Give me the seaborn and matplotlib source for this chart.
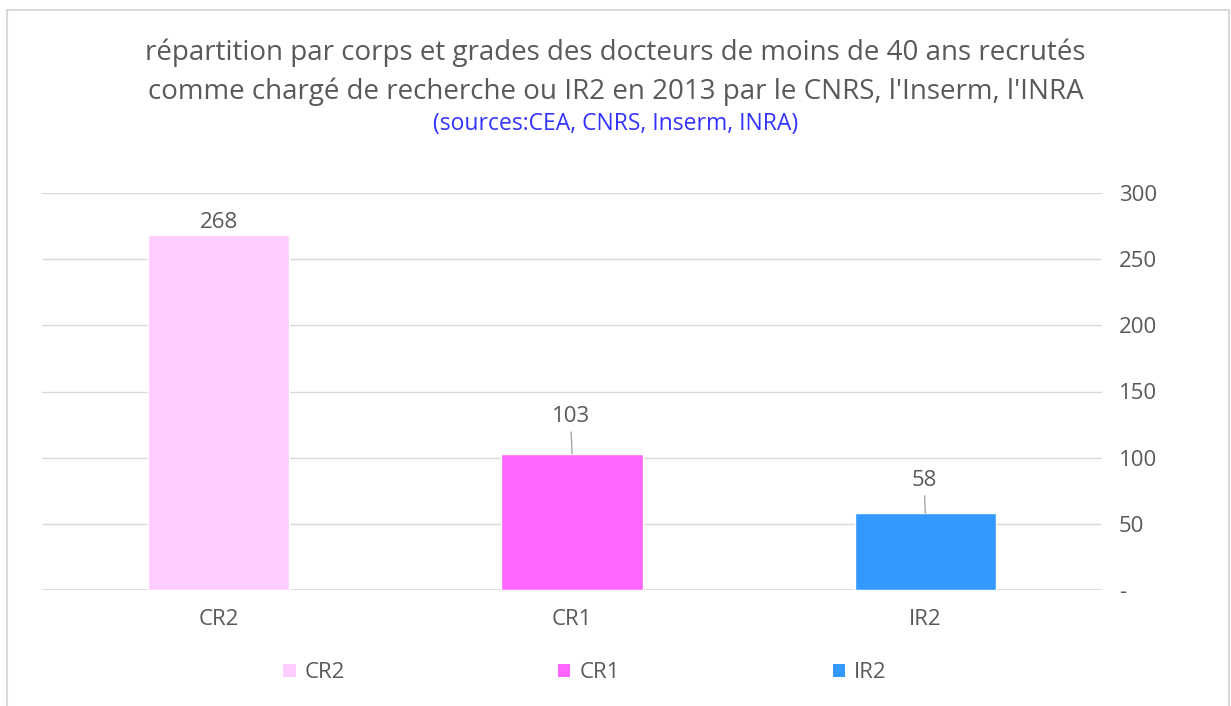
import numpy as np
import seaborn as sns
import matplotlib.pyplot as plt
from matplotlib.patches import Rectangle, Patch

sns.set_style("white")
plt.rcParams['font.family'] = ['Open Sans', 'DejaVu Sans']

# Data
categories = ["CR2", "CR1", "IR2"]
values = [268, 103, 58]
colors = ["#FFCCFF", "#FF66FF", "#3399FF"]
label_offsets = [2, 19, 16]   # points above bar top for the value labels

grey = "#595959"
fs = 16

fig = plt.figure(figsize=(12.31, 7.06), dpi=100)
ax = fig.add_axes([42/1231, 1-590/706, 1060/1231, 397/706])

sns.barplot(x=categories, y=values, hue=categories, palette=colors,
            width=0.4, saturation=1, legend=False, ax=ax)

ax.set_xlim(-0.5, 2.5)
ax.set_ylim(0, 300)
ax.set_yticks([0, 50, 100, 150, 200, 250, 300])
ax.set_yticklabels(["-", "50", "100", "150", "200", "250", "300"])
ax.yaxis.tick_right()
ax.tick_params(axis='y', length=0, pad=12, labelsize=fs, labelcolor=grey)
ax.tick_params(axis='x', length=0, pad=14, labelsize=fs, labelcolor=grey)
ax.grid(axis='y', color="#d9d9d9", linewidth=1)
ax.set_axisbelow(True)
for s in ax.spines.values():
    s.set_visible(False)
ax.axhline(0, color="#d9d9d9", linewidth=1.2, zorder=0)
ax.set_xlabel("")
ax.set_ylabel("")

# value labels, leader lines where the label floats higher
for i, (v, off) in enumerate(zip(values, label_offsets)):
    if off > 10:
        ax.annotate(str(v), xy=(i, v), xytext=(-1, off),
                    textcoords='offset points', fontsize=fs, color=grey,
                    ha='center', va='bottom',
                    arrowprops=dict(arrowstyle='-', color="#a6a6a6", lw=1,
                                    shrinkA=1, shrinkB=0))
    else:
        ax.annotate(str(v), xy=(i, v), xytext=(0, off),
                    textcoords='offset points', fontsize=fs, color=grey,
                    ha='center', va='bottom')

# titles
fig.text(0.5, 1-53/706, "répartition par corps et grades des docteurs de moins de 40 ans recrutés",
         ha='center', va='center', fontsize=20, color=grey)
fig.text(0.5, 1-92/706, "comme chargé de recherche ou IR2 en 2013 par le CNRS, l'Inserm, l'INRA",
         ha='center', va='center', fontsize=20, color=grey)
fig.text(0.5, 1-124/706, "(sources:CEA, CNRS, Inserm, INRA)",
         ha='center', va='center', fontsize=16.5, color="#3333FF")

# legend
handles = [Patch(facecolor=c, edgecolor='none', label=l) for c, l in zip(colors, categories)]
fig.legend(handles=handles, loc='center', bbox_to_anchor=(585/1231, 1-673/706),
           ncol=3, frameon=False, fontsize=fs, labelcolor=grey,
           handlelength=0.55, handleheight=0.55, handletextpad=0.4,
           columnspacing=9.6)

# outer border
fig.patches.append(Rectangle((7/1231, -0.01), 1222/1231, 1-10/706 + 0.01,
                             transform=fig.transFigure, fill=False,
                             edgecolor="#d9d9d9", linewidth=1.5))

plt.savefig("out.png", dpi=100)
